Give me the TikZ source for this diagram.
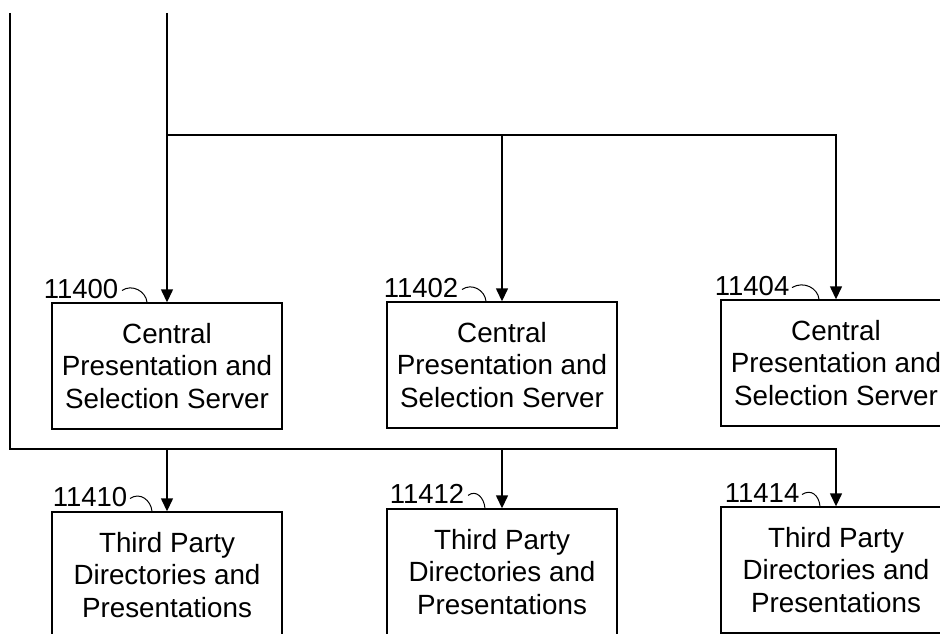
\documentclass[tikz,border=0pt]{standalone}
\usepackage{fontspec}
\setmainfont{Liberation Sans}
\usetikzlibrary{arrows.meta}
\begin{document}
\begin{tikzpicture}[x=1pt,y=-1pt, line width=1.4pt,
  box/.style={draw, minimum width=230pt, minimum height=126pt, align=center, inner sep=0pt,
              font=\fontsize{27.8}{32.5}\selectfont},
  lbl/.style={font=\fontsize{27.5}{30}\selectfont, inner sep=0pt, anchor=base east},
  arr/.style={-{Triangle[length=13pt,width=12pt]}},
  leader/.style={line width=1pt}]
\clip (0,0) rectangle (940,634);
% boxes
\node[box] (c0) at (167,366) {Central\\Presentation and\\Selection Server};
\node[box] (c1) at (502,365) {Central\\Presentation and\\Selection Server};
\node[box] (c2) at (836,363) {Central\\Presentation and\\Selection Server};
\node[box] (t0) at (167,575) {Third Party\\Directories and\\Presentations};
\node[box] (t1) at (502,572) {Third Party\\Directories and\\Presentations};
\node[box] (t2) at (836,570) {Third Party\\Directories and\\Presentations};
% connectors
\coordinate (s0) at (10,13);
\coordinate (s1) at (167,13);
\coordinate (b) at (10,449);
\coordinate (h) at (167,135);
\draw[arr] (s1) -- (c0.north);
\draw[arr] (h) -| (c2.north);
\draw[arr] (h -| c1.north) -- (c1.north);
\draw[arr] (s0) -- (b) -| (t2.north);
\draw[arr] (b -| t0.north) -- (t0.north);
\draw[arr] (b -| t1.north) -- (t1.north);
% labels
\node[lbl] (l0) at (119,298) {11400};
\node[lbl] (l1) at (459,297) {11402};
\node[lbl] (l2) at (790,295) {11404};
\node[lbl] (l3) at (128,506) {11410};
\node[lbl] (l4) at (465,503) {11412};
\node[lbl] (l5) at (800,502) {11414};
\draw[leader] ([xshift=3pt,yshift=-2pt]l0.east) .. controls +(10,-7) and +(-1,-11) .. ([xshift=-20pt]c0.north);
\draw[leader] ([xshift=3pt,yshift=-2pt]l1.east) .. controls +(10,-7) and +(-1,-11) .. ([xshift=-16pt]c1.north);
\draw[leader] ([xshift=2pt,yshift=-2pt]l2.east) .. controls +(12,-7) and +(-1,-11) .. ([xshift=-17pt]c2.north);
\draw[leader] ([xshift=2pt,yshift=-2pt]l3.east) .. controls +(10,-7) and +(-1,-11) .. ([xshift=-15pt]t0.north);
\draw[leader] ([xshift=3pt,yshift=-2pt]l4.east) .. controls +(8,-6) and +(-1,-11) .. ([xshift=-17pt]t1.north);
\draw[leader] ([xshift=2pt,yshift=-2pt]l5.east) .. controls +(9,-6) and +(-1,-11) .. ([xshift=-16pt]t2.north);
\end{tikzpicture}
\end{document}
